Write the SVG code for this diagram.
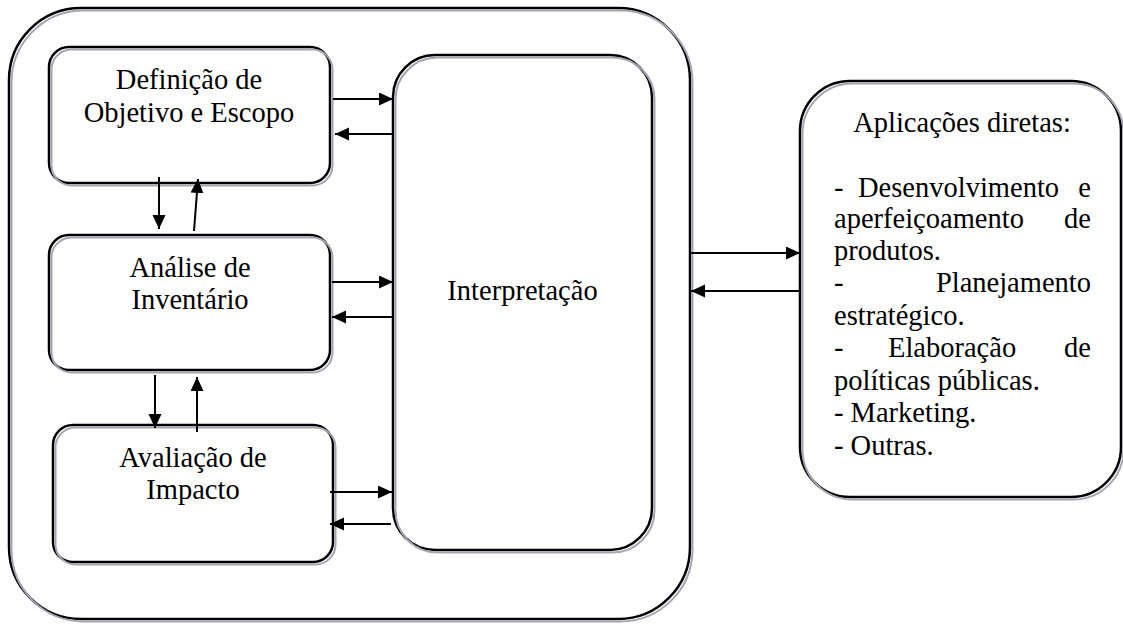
<svg xmlns="http://www.w3.org/2000/svg" width="1123" height="624" viewBox="0 0 1123 624">
  <defs>
    <marker id="arrow" markerUnits="userSpaceOnUse" markerWidth="15" markerHeight="14" refX="14" refY="6.5" orient="auto">
      <path d="M0,0 L14,6.5 L0,13 z" fill="#000"/>
    </marker>
  </defs>
  <style>
    .box { fill: #fff; stroke: #000; stroke-width: 2.5; }
    .shade { fill: none; stroke: #a8a2b3; stroke-width: 2; }
    text { font-family: 'Liberation Serif', 'Times New Roman', Tinos, Times, 'Nimbus Roman', 'Noto Serif', 'DejaVu Serif', FreeSerif, serif; font-size: 28.5px; fill: #000; }
    .mid { text-anchor: middle; }
    .end { text-anchor: end; }
    .link { stroke: #000; stroke-width: 2; fill: none; marker-end: url(#arrow); }
  </style>

  <rect width="1123" height="624" fill="#fff"/>

  <!-- enclosing frame of the LCA phases -->
  <g id="frame">
    <rect class="box" x="9" y="8" width="681" height="611" rx="72" ry="72"/>
    <rect class="shade" x="11.5" y="10.5" width="681" height="611" rx="72" ry="72"/>
  </g>

  <g id="objetivo">
    <rect class="box" x="49" y="47" width="281" height="136" rx="20" ry="20"/>
    <rect class="shade" x="51.5" y="49.5" width="281" height="136" rx="20" ry="20"/>
    <text class="mid" x="189" y="89">Definição de</text>
    <text class="mid" x="189" y="122">Objetivo e Escopo</text>
  </g>

  <g id="inventario">
    <rect class="box" x="49" y="235" width="281" height="135" rx="20" ry="20"/>
    <rect class="shade" x="51.5" y="237.5" width="281" height="135" rx="20" ry="20"/>
    <text class="mid" x="190" y="277">Análise de</text>
    <text class="mid" x="190" y="309">Inventário</text>
  </g>

  <g id="impacto">
    <rect class="box" x="53" y="425" width="280" height="137" rx="20" ry="20"/>
    <rect class="shade" x="55.5" y="427.5" width="280" height="137" rx="20" ry="20"/>
    <text class="mid" x="193" y="467">Avaliação de</text>
    <text class="mid" x="193" y="499">Impacto</text>
  </g>

  <g id="interpretacao">
    <rect class="box" x="393" y="55" width="259" height="495" rx="42" ry="42"/>
    <rect class="shade" x="395.5" y="57.5" width="259" height="495" rx="42" ry="42"/>
    <text class="mid" x="522.5" y="300">Interpretação</text>
  </g>

  <g id="aplicacoes">
    <rect class="box" x="800" y="81" width="321" height="416" rx="50" ry="50"/>
    <rect class="shade" x="802.5" y="83.5" width="321" height="416" rx="50" ry="50"/>
    <text class="mid" x="962" y="132">Aplicações diretas:</text>
    <text x="834" y="197">-</text>
    <text x="858" y="197">Desenvolvimento</text>
    <text class="end" x="1091" y="197">e</text>
    <text x="834" y="228">aperfeiçoamento</text>
    <text class="end" x="1091" y="228">de</text>
    <text x="834" y="260">produtos.</text>
    <text x="834" y="292">-</text>
    <text class="end" x="1091" y="292">Planejamento</text>
    <text x="834" y="325">estratégico.</text>
    <text x="834" y="357">-</text>
    <text x="888" y="357">Elaboração</text>
    <text class="end" x="1091" y="357">de</text>
    <text x="834" y="390">políticas públicas.</text>
    <text x="834" y="422">- Marketing.</text>
    <text x="834" y="455">- Outras.</text>
  </g>

  <g id="connectors">
    <!-- phases to and from interpretation -->
    <line class="link" x1="333" y1="99" x2="393" y2="99"/>
    <line class="link" x1="393" y1="134" x2="335" y2="134"/>
    <line class="link" x1="332" y1="282" x2="393" y2="282"/>
    <line class="link" x1="393" y1="317" x2="332" y2="317"/>
    <line class="link" x1="330" y1="492" x2="392" y2="492"/>
    <line class="link" x1="391" y1="524" x2="330" y2="524"/>
    <!-- between consecutive phases -->
    <line class="link" x1="159" y1="177" x2="159" y2="229"/>
    <line class="link" x1="194" y1="231" x2="198" y2="179"/>
    <line class="link" x1="155" y1="375" x2="155" y2="428"/>
    <line class="link" x1="197" y1="432" x2="197" y2="377"/>
    <!-- frame to and from applications -->
    <line class="link" x1="691" y1="253" x2="800" y2="253"/>
    <line class="link" x1="800" y1="291" x2="691" y2="291"/>
  </g>
</svg>
